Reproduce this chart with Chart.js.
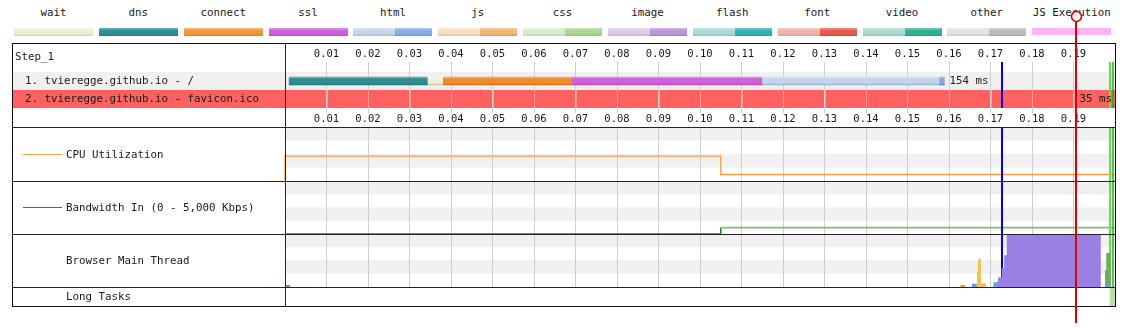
<!DOCTYPE html>
<html>
<head>
<meta charset="utf-8">
<script src="https://cdn.jsdelivr.net/npm/chart.js@4.4.1/dist/chart.umd.min.js"></script>
<style>
html,body{margin:0;padding:0;background:#fff;}
body{width:1123px;height:328px;position:relative;overflow:hidden;font-family:"DejaVu Sans Mono",monospace;font-size:10.8px;color:#1a1a1a;}
canvas{position:absolute;left:0;z-index:1;}
#overlay{z-index:10;top:0;}
.t{position:absolute;white-space:nowrap;line-height:14px;z-index:5;}
.ln{position:absolute;background:#222;z-index:4;}
.sw{position:absolute;top:28px;height:8px;z-index:2;display:flex;}
.sw div{height:100%;}
.lgl{position:absolute;top:6px;width:79px;text-align:center;white-space:nowrap;line-height:14px;}
</style>
</head>
<body>
<div id="legend"></div>

<div class="ln" style="left:12px;top:43px;width:1104px;height:1px;background:#111"></div>
<div class="ln" style="left:12px;top:306px;width:1104px;height:1px;background:#111"></div>
<div class="ln" style="left:12px;top:43px;width:1px;height:264px;background:#111"></div>
<div class="ln" style="left:1115px;top:43px;width:1px;height:264px;background:#111"></div>
<div class="ln" style="left:285px;top:43px;width:1px;height:264px;"></div>
<div class="ln" style="left:12px;top:127px;width:1104px;height:1px;"></div>
<div class="ln" style="left:12px;top:181px;width:1104px;height:1px;"></div>
<div class="ln" style="left:12px;top:234px;width:1104px;height:1px;"></div>
<div class="ln" style="left:12px;top:287px;width:1104px;height:1px;"></div>

<div class="t" style="left:15px;top:50px">Step_1</div>
<div class="t" id="req0" style="left:25px;top:74px"></div>
<div class="t" id="req1" style="left:25px;top:92px"></div>
<div class="ln" style="left:23px;top:154px;width:39px;height:1px;background:#ffa040"></div>
<div class="t" style="left:66px;top:148px">CPU Utilization</div>
<div class="ln" style="left:23px;top:207px;width:39px;height:1px;background:#2c8c2c"></div>
<div class="t" style="left:66px;top:201px">Bandwidth In (0 - 5,000 Kbps)</div>
<div class="t" style="left:66px;top:254px">Browser Main Thread</div>
<div class="t" style="left:66px;top:290px">Long Tasks</div>

<canvas id="wf" width="1123" height="84" style="top:43px"></canvas>
<canvas id="cpu" width="1123" height="54" style="top:127px"></canvas>
<canvas id="bw" width="1123" height="53" style="top:181px"></canvas>
<canvas id="mt" width="1123" height="53" style="top:234px"></canvas>
<canvas id="lt" width="1123" height="19" style="top:287px"></canvas>
<canvas id="overlay" width="1123" height="328"></canvas>

<script>
// ---------------- data ----------------
const legendNames = ['wait','dns','connect','ssl','html','js','css','image','flash','font','video','other','JS Execution'];
const legendLight = [null,null,null,null,'#c6d5ec','#f6dcc0','#d6ebcc','#dccce9','#a9dada','#f2b3aa','#a9dbd0','#e2e2e2',null];
const legendDark  = ['#efecd3','#2e8c93','#f5963a','#cf5fdc','#82aee8','#f2b574','#a9d88e','#b995da','#2fb1b9','#e8584a','#2db390','#bdbdbd','#ffb3f9'];

const tickLabels = ['0.01','0.02','0.03','0.04','0.05','0.06','0.07','0.08','0.09','0.10',
                    '0.11','0.12','0.13','0.14','0.15','0.16','0.17','0.18','0.19'];

const requestLabels = ['1. tvieregge.github.io - /', '2. tvieregge.github.io - favicon.ico'];
const requestDurations = ['154 ms', '35 ms'];
const requestEnds = [0.1589, null];
const requestRowColors = ['#f0f0f0', '#ff6161'];

const segNames  = ['dns','wait','connect','ssl','html','html-dl'];
const segStart  = [0.0010, 0.0343, 0.0380, 0.0691, 0.1149, 0.1576];
const segEnd    = [0.0343, 0.0380, 0.0691, 0.1149, 0.1576, 0.1589];
const segColors = ['#2e8c93','#f1eed4','#f28a2a','#cf5fdc','#c3d4ee','#7ea7e3'];

const markerTimes  = [0.1728, 0.19875, 0.1994];
const markerColors = ['#0000ee', '#66e033', '#2aa52a'];
const markerWidths = [2, 2, 1.5];
const jsExecTime = 0.1905;

const cpuTimes  = [0, 0, 0.105, 0.2];
const cpuValues = [0, 46, 12, 12];

const bwTimes  = [0, 0.105, 0.2];
const bwValues = [0, 600, 600];

const mtBlueTimes   = [0.1655, 0.1667, 0.1707, 0.1716, 0.1976, 0.1990];
const mtBlueValues  = [6, 0, 9, 0, 5, 0];
const mtYellowTimes = [0.1667, 0.1670, 0.1677, 0.1689];
const mtYellowValues= [29, 53, 7, 0];
const mtOrangeTimes = [0.1627, 0.1639];
const mtOrangeValues= [4, 0];
const mtPurpleTimes = [0.1714, 0.1718, 0.1727, 0.1733, 0.1739, 0.1966];
const mtPurpleValues= [10, 18, 36, 60, 100, 0];
const mtGreenTimes  = [0, 0.0012, 0.1976, 0.1979, 0.1990];
const mtGreenValues = [4, 0, 32, 64, 0];

const longTaskStart = [0.1988];
const longTaskEnd   = [0.2000];

// ---------------- helpers ----------------
const FONT = '"DejaVu Sans Mono", monospace';
const GRID = '#cfcfcf';
function hexRgb(h){h=h.replace('#','');return [parseInt(h.substr(0,2),16),parseInt(h.substr(2,2),16),parseInt(h.substr(4,2),16)];}
function mix(h, t, f){const c=hexRgb(h);return 'rgb('+c.map((v,i)=>Math.round(v+(t[i]-v)*f)).join(',')+')';}
const lighten=(h,f)=>mix(h,[255,255,255],f), darken=(h,f)=>mix(h,[0,0,0],f);
function vgrad(c){return 'linear-gradient(to bottom,'+lighten(c,0.35)+' 0%,'+c+' 35%,'+c+' 70%,'+darken(c,0.12)+' 100%)';}

// legend
const lg = document.getElementById('legend');
legendNames.forEach((n,i)=>{
  const left = 14 + i*84.85;
  const l = document.createElement('div'); l.className='lgl'; l.style.left=left+'px'; l.textContent=n; lg.appendChild(l);
  const s = document.createElement('div'); s.className='sw'; s.style.left=left+'px'; s.style.width='79px';
  if (i === legendNames.length-1) { s.style.height='7px'; s.style.background=legendDark[i]; }
  else if (legendLight[i]) {
    const a=document.createElement('div'); a.style.width='42px'; a.style.background=vgrad(legendLight[i]);
    const b=document.createElement('div'); b.style.width='37px'; b.style.background=vgrad(legendDark[i]);
    s.appendChild(a); s.appendChild(b);
  } else { s.style.background=vgrad(legendDark[i]); }
  lg.appendChild(s);
});
document.getElementById('req0').textContent = requestLabels[0];
document.getElementById('req1').textContent = requestLabels[1];

function drawMarkers(ctx, x, top, bottom){
  ctx.save();
  markerTimes.forEach((t,i)=>{
    const w = markerWidths[i];
    let px = Math.round(x.getPixelForValue(t));
    if (w % 2 === 1) px += 0.5;
    ctx.strokeStyle = markerColors[i]; ctx.lineWidth = w;
    ctx.beginPath(); ctx.moveTo(px, top); ctx.lineTo(px, bottom); ctx.stroke();
  });
  ctx.restore();
}
const stripes = { id:'stripes', beforeDraw(chart){
  const {ctx, chartArea:a} = chart; const bh=(a.bottom-a.top)/4;
  ctx.save(); ctx.fillStyle='#f0f0f0';
  for (let k=0;k<4;k+=2) ctx.fillRect(a.left, a.top+k*bh, a.right-a.left, bh);
  ctx.restore();
}};
const markersAfter = { id:'markersAfter', afterDatasetsDraw(chart){ drawMarkers(chart.ctx, chart.scales.x, chart.chartArea.top, chart.chartArea.bottom); } };
const markersBefore = { id:'markersBefore', beforeDatasetsDraw(chart){ drawMarkers(chart.ctx, chart.scales.x, chart.chartArea.top, chart.chartArea.bottom); } };

const setTicks = s => { s.ticks = tickLabels.map(l => ({value: parseFloat(l)})); };
function timeAxis(extra){
  return Object.assign({
    type:'linear', min:0, max:0.2, position:'bottom',
    afterBuildTicks: setTicks,
    ticks:{display:false}, grid:{color:GRID, drawTicks:false}, border:{display:false},
    afterFit: s => { s.height = 0; }
  }, extra||{});
}
function baseOptions(yMax){
  return {
    responsive:false, animation:false, devicePixelRatio:1, events:[],
    layout:{padding:{left:285,right:8,top:0,bottom:0}},
    plugins:{legend:{display:false}, tooltip:{enabled:false}},
    elements:{point:{radius:0}},
    scales:{ x: timeAxis(), y:{type:'linear', min:0, max:yMax, display:false} }
  };
}
const pts = (ts, vs) => ts.map((t,i)=>({x:t, y:vs[i]}));

// ---------------- waterfall ----------------
function barFill(c, col){
  const ch = c.chart;
  if (!ch.chartArea || !ch.scales.y) return col;
  const y = ch.scales.y.getPixelForValue(c.dataIndex);
  const g = ch.ctx.createLinearGradient(0, y-4, 0, y+4);
  g.addColorStop(0, lighten(col,0.3)); g.addColorStop(0.3, col); g.addColorStop(0.75, col); g.addColorStop(1, darken(col,0.18));
  return g;
}
const rowsPlugin = {
  id:'rows',
  beforeDraw(chart){
    const {ctx, chartArea:a, scales:{y}} = chart;
    const h = (a.bottom-a.top)/requestLabels.length;
    ctx.save();
    requestRowColors.forEach((c,i)=>{ const yc=y.getPixelForValue(i); ctx.fillStyle=c; ctx.fillRect(13, yc-h/2, a.right-13, h); });
    ctx.restore();
  },
  beforeDatasetsDraw(chart){
    // grid lines crossing the failed (red) row are rendered lighter, as in the reference
    const {ctx, chartArea:a, scales:{x,y}} = chart;
    const h = (a.bottom-a.top)/requestLabels.length;
    ctx.save(); ctx.strokeStyle='#ff9c9c'; ctx.lineWidth=1;
    requestRowColors.forEach((c,i)=>{
      if (c !== '#ff6161') return;
      const yc=y.getPixelForValue(i);
      x.ticks.forEach(t=>{ const px=Math.round(x.getPixelForValue(t.value))+0.5; ctx.beginPath(); ctx.moveTo(px, yc-h/2); ctx.lineTo(px, yc+h/2); ctx.stroke(); });
    });
    ctx.restore();
  },
  afterDatasetsDraw(chart){
    const {ctx, chartArea:a, scales:{x,y}} = chart;
    drawMarkers(ctx, x, a.top-10, a.bottom);
    ctx.save();
    ctx.font = '10.8px '+FONT; ctx.fillStyle='#1a1a1a'; ctx.textBaseline='middle';
    requestDurations.forEach((d,i)=>{
      const yc = y.getPixelForValue(i);
      if (requestEnds[i] != null) { ctx.textAlign='left'; ctx.fillText(d, x.getPixelForValue(requestEnds[i])+5, yc+0.5); }
      else { ctx.textAlign='right'; ctx.fillText(d, a.right-3, yc+0.5); }
    });
    ctx.restore();
  }
};
new Chart(document.getElementById('wf'), {
  type:'bar',
  data:{
    labels: requestLabels,
    datasets: segNames.map((n,i)=>({
      label:n, data:[[segStart[i], segEnd[i]], null],
      backgroundColor: c => barFill(c, segColors[i]),
      barThickness:8, grouped:false, borderWidth:0, borderSkipped:false
    }))
  },
  options:{
    indexAxis:'y', responsive:false, animation:false, devicePixelRatio:1, events:[],
    layout:{padding:{left:285,right:8,top:0,bottom:0}},
    plugins:{legend:{display:false}, tooltip:{enabled:false}},
    scales:{
      x:{ type:'linear', position:'top', min:0, max:0.2, afterBuildTicks:setTicks,
          ticks:{callback:(v,i)=>tickLabels[i], font:{family:FONT,size:10.5}, color:'#1a1a1a', padding:1, maxRotation:0, autoSkip:false},
          grid:{color:GRID, tickLength:10, tickColor:GRID}, border:{display:false},
          afterFit: s => { s.height = 29; } },
      x2:{ axis:'x', type:'linear', position:'bottom', min:0, max:0.2, afterBuildTicks:setTicks,
          ticks:{callback:(v,i)=>tickLabels[i], font:{family:FONT,size:10.5}, color:'#1a1a1a', padding:0, maxRotation:0, autoSkip:false},
          grid:{color:GRID, tickLength:5, tickColor:GRID, drawOnChartArea:false}, border:{display:false},
          afterFit: s => { s.height = 19; } },
      y:{ type:'category', display:false }
    }
  },
  plugins:[rowsPlugin]
});

// ---------------- CPU ----------------
new Chart(document.getElementById('cpu'), {
  type:'line',
  data:{datasets:[{ data: pts(cpuTimes, cpuValues), borderColor:'#ff9a3c', borderWidth:1.3, stepped:true, fill:false, clip:false }]},
  options: baseOptions(100),
  plugins:[stripes, markersAfter]
});

// ---------------- Bandwidth ----------------
new Chart(document.getElementById('bw'), {
  type:'line',
  data:{datasets:[{ data: pts(bwTimes, bwValues), borderColor:'#2a8a2a', borderWidth:1.6, stepped:true, fill:false,
    segment:{ borderColor: c => (c.p0.parsed.y > 0 ? '#7cc07c' : '#1f7f1f') } }]},
  options: baseOptions(5000),
  plugins:[stripes, markersAfter]
});

// ---------------- Main thread ----------------
const area = (ts, vs, col, order) => ({ data: pts(ts, vs), backgroundColor: col, borderWidth:0, stepped:true, fill:'origin', order });
new Chart(document.getElementById('mt'), {
  type:'line',
  data:{datasets:[
    area(mtBlueTimes, mtBlueValues, '#6f9fe0', 0),
    area(mtYellowTimes, mtYellowValues, '#f2c14e', 1),
    area(mtOrangeTimes, mtOrangeValues, '#e89a40', 2),
    area(mtPurpleTimes, mtPurpleValues, '#9b80e3', 3),
    area(mtGreenTimes, mtGreenValues, '#6aaf58', 4)
  ]},
  options: baseOptions(100),
  plugins:[stripes, markersBefore]
});

// ---------------- Long tasks ----------------
const ltOpts = baseOptions(1);
ltOpts.indexAxis = 'y';
ltOpts.scales.x = timeAxis({grid:{display:false}});
ltOpts.scales.y = {type:'category', display:false};
new Chart(document.getElementById('lt'), {
  type:'bar',
  data:{ labels:['Long Tasks'], datasets:[{ data: longTaskStart.map((s,i)=>[s, longTaskEnd[i]]), backgroundColor:'#b6dfa0', barPercentage:1, categoryPercentage:1, borderWidth:0 }]},
  options: ltOpts
});

// ---------------- JS execution cursor overlay ----------------
const ovOpts = baseOptions(1);
ovOpts.scales.x = {type:'linear', min:0, max:0.2, display:false};
new Chart(document.getElementById('overlay'), {
  type:'line',
  data:{datasets:[]},
  options: ovOpts,
  plugins:[{ id:'cursor', afterDraw(chart){
    const ctx = chart.ctx; const px = Math.round(chart.scales.x.getPixelForValue(jsExecTime));
    ctx.save();
    ctx.strokeStyle = '#dd0000'; ctx.lineWidth = 2;
    ctx.beginPath(); ctx.moveTo(px, 22); ctx.lineTo(px, 323); ctx.stroke();
    ctx.beginPath(); ctx.arc(px+0.5, 16.5, 5, 0, Math.PI*2); ctx.fillStyle='rgba(255,255,255,0.85)'; ctx.fill();
    ctx.lineWidth = 1.6; ctx.stroke();
    ctx.restore();
  }}]
});
</script>
</body>
</html>
